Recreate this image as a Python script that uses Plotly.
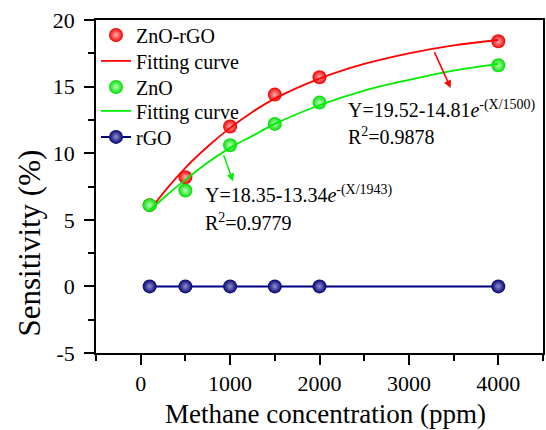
import plotly.graph_objects as go

# ---- data ----
conc = [100, 500, 1000, 1500, 2000, 4000]
zno_rgo = [6.1, 8.2, 12.0, 14.4, 15.7, 18.4]
zno = [6.1, 7.2, 10.6, 12.2, 13.8, 16.6]
rgo = [0, 0, 0, 0, 0, 0]

fit_x = [100, 300, 500, 750, 1000, 1250, 1500, 2000, 2500, 3000, 3500, 4000]
fit_zno_rgo = [5.7, 7.4, 8.9, 10.5, 11.9, 13.1, 14.1, 15.6, 16.7, 17.5, 18.1, 18.5]
fit_zno = [5.7, 6.9, 8.0, 9.3, 10.4, 11.3, 12.2, 13.6, 14.7, 15.5, 16.2, 16.7]

x_ticks = [0, 1000, 2000, 3000, 4000]
y_ticks = [-5, 0, 5, 10, 15, 20]
y_tick_labels = ["-5", "0", "5", "10", "15", "20"]

FONT = "Liberation Serif"

fig = go.Figure()

def sphere(color, light):
    return dict(size=14, color=color, line=dict(width=0),
                gradient=dict(type="radial", color=light))

fig.add_trace(go.Scatter(x=conc, y=zno_rgo, mode="markers", name="ZnO-rGO",
                         legend="legend", marker=sphere("#ee0000", "#ffb0b0")))
fig.add_trace(go.Scatter(x=fit_x, y=fit_zno_rgo, mode="lines", name="Fitting curve",
                         legend="legend2",
                         line=dict(color="#ff0000", width=1.8, shape="spline")))
fig.add_trace(go.Scatter(x=conc, y=zno, mode="markers", name="ZnO",
                         legend="legend3", marker=sphere("#00dd00", "#b8ffb8")))
fig.add_trace(go.Scatter(x=fit_x, y=fit_zno, mode="lines", name="Fitting curve",
                         legend="legend4",
                         line=dict(color="#00ee00", width=1.8, shape="spline")))
fig.add_trace(go.Scatter(x=conc, y=rgo, mode="lines+markers", name="rGO",
                         legend="legend5",
                         line=dict(color="#000080", width=2),
                         marker=sphere("#000070", "#9090d0")))

axis_common = dict(showline=True, linecolor="black", linewidth=1.5, mirror=True,
                   ticks="outside", ticklen=10, tickwidth=1.5, tickcolor="black",
                   showgrid=False, zeroline=False,
                   tickfont=dict(family=FONT, size=22, color="black"))

fig.update_xaxes(range=[-500, 4500], tickvals=x_ticks,
                 ticktext=[str(v) for v in x_ticks],
                 minor=dict(dtick=500, tick0=0, ticks="outside", ticklen=6,
                            tickwidth=1.5, tickcolor="black"),
                 **axis_common)
fig.update_yaxes(range=[-5, 20], tickvals=y_ticks, ticktext=y_tick_labels,
                 ticklabelstandoff=5,
                 minor=dict(dtick=2.5, tick0=0, ticks="outside", ticklen=6,
                            tickwidth=1.5, tickcolor="black"),
                 **axis_common)

ann_font = dict(family=FONT, size=20, color="black")
annotations = [
    dict(x=2300, y=13.3, xref="x", yref="y", xanchor="left", yanchor="middle",
         text="Y=19.52-14.81<i>e</i><sup>-(X/1500)</sup>", showarrow=False, font=ann_font),
    dict(x=2300, y=11.3, xref="x", yref="y", xanchor="left", yanchor="middle",
         text="R<sup>2</sup>=0.9878", showarrow=False, font=ann_font),
    dict(x=700, y=6.9, xref="x", yref="y", xanchor="left", yanchor="middle",
         text="Y=18.35-13.34<i>e</i><sup>-(X/1943)</sup>", showarrow=False, font=ann_font),
    dict(x=700, y=4.8, xref="x", yref="y", xanchor="left", yanchor="middle",
         text="R<sup>2</sup>=0.9779", showarrow=False, font=ann_font),
    dict(x=3467, y=14.9, ax=3278, ay=17.7, xref="x", yref="y", axref="x", ayref="y",
         text="", showarrow=True, arrowhead=2, arrowsize=1, arrowwidth=1.5, arrowcolor="#ff0000"),
    dict(x=1033, y=7.9, ax=922, ay=9.96, xref="x", yref="y", axref="x", ayref="y",
         text="", showarrow=True, arrowhead=2, arrowsize=1, arrowwidth=1.5, arrowcolor="#00ee00"),
    dict(x=0.514, y=-0.183, xref="paper", yref="paper", xanchor="center", yanchor="middle",
         text="Methane concentration (ppm)", showarrow=False,
         font=dict(family=FONT, size=27, color="black")),
    dict(x=-0.149, y=0.33, xref="paper", yref="paper", xanchor="center", yanchor="middle",
         text="Sensitivity (%)", showarrow=False, textangle=-90,
         font=dict(family=FONT, size=31, color="black")),
]

leg_font = dict(family=FONT, size=20, color="black")
leg_y = [0.955, 0.877, 0.799, 0.727, 0.649]
legends = {}
for i, yy in enumerate(leg_y):
    key = "legend" if i == 0 else f"legend{i + 1}"
    legends[key] = dict(x=0, y=yy, xanchor="left", yanchor="middle",
                        bgcolor="rgba(0,0,0,0)", borderwidth=0, font=leg_font)

fig.update_layout(
    width=546, height=430,
    margin=dict(l=96, r=1, t=20, b=77),
    paper_bgcolor="white", plot_bgcolor="white",
    font=dict(family=FONT, color="black"),
    showlegend=True,
    annotations=annotations,
    **legends,
)

fig.write_html("out.html")
